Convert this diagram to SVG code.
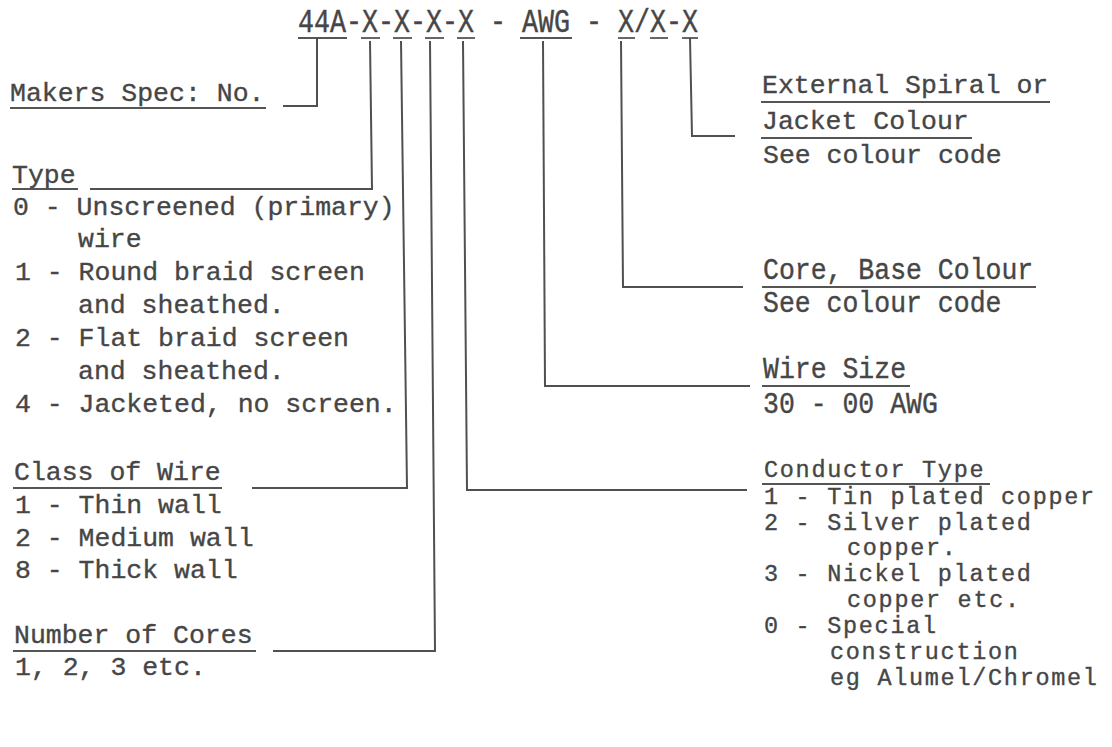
<svg xmlns="http://www.w3.org/2000/svg" width="1112" height="747" viewBox="0 0 1112 747">
<style>
  text { font-family: "Liberation Mono", "Courier New", monospace; font-size: 26.5px; fill: #464646; stroke: #464646; stroke-width: 0.35; }
  .code { font-size: 26.67px; }
  .small { font-size: 23.5px; letter-spacing: 1.7px; }
  .ul { stroke: #555; stroke-width: 1.8; fill: none; }
  .conn { stroke: #505050; stroke-width: 2; fill: none; stroke-linejoin: miter; }
</style>
<rect width="1112" height="747" fill="#ffffff"/>

<g id="code">
  <text class="code" x="298" y="25.6" transform="scale(1,1.25)">44A-X-X-X-X - AWG - X/X-X</text>
  <line class="ul" x1="298" y1="38" x2="347" y2="38"/>
  <line class="ul" x1="361" y1="38" x2="380" y2="38"/>
  <line class="ul" x1="393" y1="38" x2="412" y2="38"/>
  <line class="ul" x1="425" y1="38" x2="444" y2="38"/>
  <line class="ul" x1="457" y1="38" x2="475" y2="38"/>
  <line class="ul" x1="520" y1="38" x2="572" y2="38"/>
  <line class="ul" x1="618" y1="38" x2="635" y2="38"/>
  <line class="ul" x1="650" y1="38" x2="668" y2="38"/>
  <line class="ul" x1="682" y1="38" x2="698" y2="38"/>
</g>

<g id="connectors">
  <polyline class="conn" points="317,38 317,106 283,106"/>
  <polyline class="conn" points="370,41 372,189 90,189"/>
  <polyline class="conn" points="401,41 407,488 252,488"/>
  <polyline class="conn" points="430,41 435,651 273,651"/>
  <polyline class="conn" points="463,41 467,490 747,490"/>
  <polyline class="conn" points="543,41 545,386 750,386"/>
  <polyline class="conn" points="621,41 623,287 743,287"/>
  <polyline class="conn" points="690,38 692,136 735,136"/>
</g>

<g id="makers-spec">
  <text x="10" y="101">Makers Spec: No.</text>
  <line class="ul" x1="10" y1="108" x2="266" y2="108"/>
</g>

<g id="type">
  <text x="12" y="183">Type</text>
  <line class="ul" x1="12" y1="189" x2="78" y2="189"/>
  <text x="13" y="215">0 - Unscreened (primary)</text>
  <text x="78" y="247">wire</text>
  <text x="15" y="280">1 - Round braid screen</text>
  <text x="78" y="313">and sheathed.</text>
  <text x="15" y="346">2 - Flat braid screen</text>
  <text x="78" y="379">and sheathed.</text>
  <text x="15" y="412">4 - Jacketed, no screen.</text>
</g>

<g id="class-of-wire">
  <text x="14" y="480">Class of Wire</text>
  <line class="ul" x1="13" y1="488" x2="222" y2="488"/>
  <text x="15" y="513">1 - Thin wall</text>
  <text x="15" y="546">2 - Medium wall</text>
  <text x="15" y="578">8 - Thick wall</text>
</g>

<g id="number-of-cores">
  <text x="14" y="643">Number of Cores</text>
  <line class="ul" x1="13" y1="651" x2="256" y2="651"/>
  <text x="15" y="675">1, 2, 3 etc.</text>
</g>

<g id="jacket-colour">
  <text x="762" y="93">External Spiral or</text>
  <line class="ul" x1="761" y1="102" x2="1050" y2="102"/>
  <text x="762" y="129">Jacket Colour</text>
  <line class="ul" x1="761" y1="138" x2="972" y2="138"/>
  <text x="763" y="163">See colour code</text>
</g>

<g id="core-colour">
  <text x="763" y="249" transform="scale(1,1.12)">Core, Base Colour</text>
  <line class="ul" x1="762" y1="287" x2="1036" y2="287"/>
  <text x="763" y="278.6" transform="scale(1,1.12)">See colour code</text>
</g>

<g id="wire-size">
  <text x="763" y="337.5" transform="scale(1,1.12)">Wire Size</text>
  <line class="ul" x1="762" y1="386" x2="910" y2="386"/>
  <text x="763" y="368.7" transform="scale(1,1.12)">30 - 00 AWG</text>
</g>

<g id="conductor-type">
  <text class="small" x="764" y="477">Conductor Type</text>
  <line class="ul" x1="762" y1="484" x2="990" y2="484"/>
  <text class="small" x="764" y="504">1 - Tin plated copper</text>
  <text class="small" x="764" y="530">2 - Silver plated</text>
  <text class="small" x="847" y="555">copper.</text>
  <text class="small" x="764" y="581">3 - Nickel plated</text>
  <text class="small" x="847" y="607">copper etc.</text>
  <text class="small" x="764" y="633">0 - Special</text>
  <text class="small" x="830" y="659">construction</text>
  <text class="small" x="830" y="685">eg Alumel/Chromel</text>
</g>
</svg>
